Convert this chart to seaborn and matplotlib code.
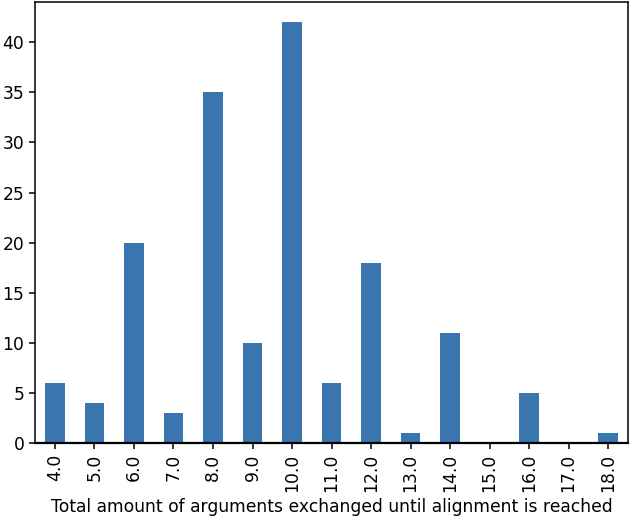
import matplotlib
matplotlib.use("Agg")
import matplotlib.pyplot as plt
import seaborn as sns
import pandas as pd

categories = ["4.0", "5.0", "6.0", "7.0", "8.0", "9.0", "10.0", "11.0", "12.0",
              "13.0", "14.0", "15.0", "16.0", "17.0", "18.0"]
counts = [6, 4, 20, 3, 35, 10, 42, 6, 18, 1, 11, 0, 5, 0, 1]

df = pd.DataFrame({"x": categories, "y": counts})

plt.rcParams["font.size"] = 12.3
fig, ax = plt.subplots(figsize=(6.4, 5.22), dpi=100)
sns.barplot(data=df, x="x", y="y", order=categories, color="#3a75b0",
            saturation=1, width=0.5, ax=ax)
ax.set_xlabel("Total amount of arguments exchanged until alignment is reached",
              fontsize=12.3)
ax.set_ylabel("")
ax.tick_params(axis="x", rotation=90, labelsize=12.3, length=4.3, width=1.1)
ax.tick_params(axis="y", labelsize=12.3, length=4.3, width=1.1)
for s in ax.spines.values():
    s.set_linewidth(1.1)
ax.spines["bottom"].set_linewidth(1.6)
ax.set_xlim(-0.5, len(categories) - 0.5)
ax.set_ylim(0, 44)
fig.subplots_adjust(left=0.055, right=0.981, top=0.996, bottom=0.151)
fig.savefig("out.png", dpi=100)
